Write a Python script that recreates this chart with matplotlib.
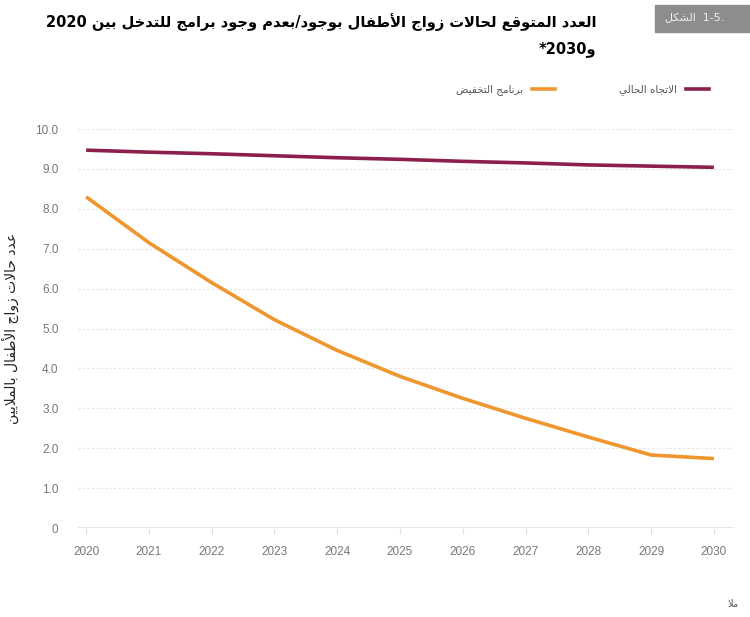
import matplotlib
matplotlib.use("Agg")
import matplotlib.pyplot as plt
from matplotlib.lines import Line2D
from matplotlib.patches import Rectangle
import re

plt.rcParams['font.family'] = ['Liberation Sans', 'DejaVu Sans']

years = [2020, 2021, 2022, 2023, 2024, 2025, 2026, 2027, 2028, 2029, 2030]
current_trend = [9.47, 9.42, 9.38, 9.33, 9.28, 9.24, 9.19, 9.15, 9.10, 9.07, 9.04]
reduction_prog = [8.3, 7.15, 6.15, 5.22, 4.45, 3.8, 3.25, 2.75, 2.28, 1.83, 1.74]
y_ticks = [0, 1, 2, 3, 4, 5, 6, 7, 8, 9, 10]
y_tick_labels = ['0', '1.0', '2.0', '3.0', '4.0', '5.0', '6.0', '7.0', '8.0', '9.0', '10.0']

title_1 = "العدد المتوقع لحالات زواج الأطفال بوجود/بعدم وجود برامج للتدخل بين 2020"
title_2 = "و2030*"
badge_word = "الشكل"
badge_num = "1-5."
label_current = "الاتجاه الحالي"
label_reduction = "برنامج التخفيض"
y_label = "عدد حالات زواج الأطفال بالملايين"

# presentation forms: (first codepoint, number of forms) iso, final, initial, medial
FORMS = {'ء': (0xFE80, 1), 'آ': (0xFE81, 2), 'أ': (0xFE83, 2), 'ؤ': (0xFE85, 2),
         'إ': (0xFE87, 2), 'ئ': (0xFE89, 4), 'ا': (0xFE8D, 2), 'ب': (0xFE8F, 4),
         'ة': (0xFE93, 2), 'ت': (0xFE95, 4), 'ث': (0xFE99, 4), 'ج': (0xFE9D, 4),
         'ح': (0xFEA1, 4), 'خ': (0xFEA5, 4), 'د': (0xFEA9, 2), 'ذ': (0xFEAB, 2),
         'ر': (0xFEAD, 2), 'ز': (0xFEAF, 2), 'س': (0xFEB1, 4), 'ش': (0xFEB5, 4),
         'ص': (0xFEB9, 4), 'ض': (0xFEBD, 4), 'ط': (0xFEC1, 4), 'ظ': (0xFEC5, 4),
         'ع': (0xFEC9, 4), 'غ': (0xFECD, 4), 'ف': (0xFED1, 4), 'ق': (0xFED5, 4),
         'ك': (0xFED9, 4), 'ل': (0xFEDD, 4), 'م': (0xFEE1, 4), 'ن': (0xFEE5, 4),
         'ه': (0xFEE9, 4), 'و': (0xFEED, 2), 'ى': (0xFEEF, 2), 'ي': (0xFEF1, 4)}
LAM_ALEF = {'آ': 0xFEF5, 'أ': 0xFEF7, 'إ': 0xFEF9, 'ا': 0xFEFB}


def ar(text):
    # 简单的阿拉伯文连写 + 从右到左排列
    tokens = []
    i = 0
    while i < len(text):
        c = text[i]
        if c == 'ل' and i + 1 < len(text) and text[i + 1] in LAM_ALEF:
            tokens.append(('lig', LAM_ALEF[text[i + 1]], 2))
            i += 2
            continue
        if c in FORMS:
            tokens.append(('ar', FORMS[c][0], FORMS[c][1]))
        else:
            tokens.append(('x', c, 0))
        i += 1
    out = []
    for k, (kind, base, n) in enumerate(tokens):
        if kind == 'x':
            out.append(base)
            continue
        prev_joins = k > 0 and tokens[k - 1][0] != 'x' and tokens[k - 1][2] == 4
        next_joins = n == 4 and k + 1 < len(tokens) and tokens[k + 1][0] != 'x'
        if n == 1:
            form = 0
        elif prev_joins and next_joins:
            form = 3
        elif prev_joins:
            form = 1
        elif next_joins:
            form = 2
        else:
            form = 0
        out.append(chr(base + form))
    s = ''.join(out)[::-1]
    return re.sub(r'[0-9]+', lambda m: m.group(0)[::-1], s)


fig = plt.figure(figsize=(7.5, 6.17), dpi=100)
ax = fig.add_axes([0.104, 0.1442, 0.873, 0.6467])

c_purple = '#8c1f4b'
c_orange = '#f0962e'
ax.plot(years, reduction_prog, color=c_orange, lw=2.6, solid_capstyle='butt')
ax.plot(years, current_trend, color=c_purple, lw=2.6, solid_capstyle='butt')

ax.set_xlim(2019.87, 2030.3)
ax.set_ylim(0, 10)
ax.set_xticks(years)
ax.set_xticklabels([str(y) for y in years], fontsize=8.5, color='#777777')
ax.set_yticks(y_ticks)
ax.set_yticklabels(y_tick_labels, fontsize=8.5, color='#777777')
ax.tick_params(axis='y', length=0, pad=14)
ax.tick_params(axis='x', length=4, color='#dddddd', pad=9)
for s in ax.spines.values():
    s.set_visible(False)
for v in y_ticks[1:]:
    ax.axhline(v, color='#e4e4e4', lw=0.8, ls=(0, (2, 2)), zorder=0)
ax.axhline(0, color='#e0e0e0', lw=1.2, zorder=0)

ax.set_ylabel(ar(y_label), fontsize=10, color='#222222', labelpad=12, family='DejaVu Sans')

handles = [Line2D([0], [0], color=c_orange, lw=2.6),
           Line2D([0], [0], color=c_purple, lw=2.6)]
fig.legend(handles, [ar(label_reduction), ar(label_current)], ncol=2, markerfirst=False,
           frameon=False, loc='center', bbox_to_anchor=(0.7767, 1 - 90 / 617),
           prop={'size': 7.5, 'family': 'DejaVu Sans'}, handlelength=2.2,
           columnspacing=6.2, handletextpad=0.8, labelcolor='#555555')

fig.text(0.795, 1 - 22 / 617, ar(title_1), ha='right', va='center', fontsize=10.5,
         fontweight='bold', family='DejaVu Sans')
fig.text(0.795, 1 - 49 / 617, ar(title_2), ha='right', va='center', fontsize=10.5,
         fontweight='bold', family='DejaVu Sans')

fig.patches.append(Rectangle((655 / 750, 1 - 32 / 617), 95 / 750, 27 / 617,
                             transform=fig.transFigure, color='#8d8d8d', zorder=0))
fig.text(665 / 750, 1 - 18 / 617, ar(badge_word) + "  " + badge_num, ha='left', va='center',
         fontsize=8, color='#eeeeee', family='DejaVu Sans')

fig.text(0.985, 1 - 604 / 617, ar("ملا"), ha='right', va='center', fontsize=7,
         color='#555555', family='DejaVu Sans')

fig.savefig('out.png', dpi=100, facecolor='white')
